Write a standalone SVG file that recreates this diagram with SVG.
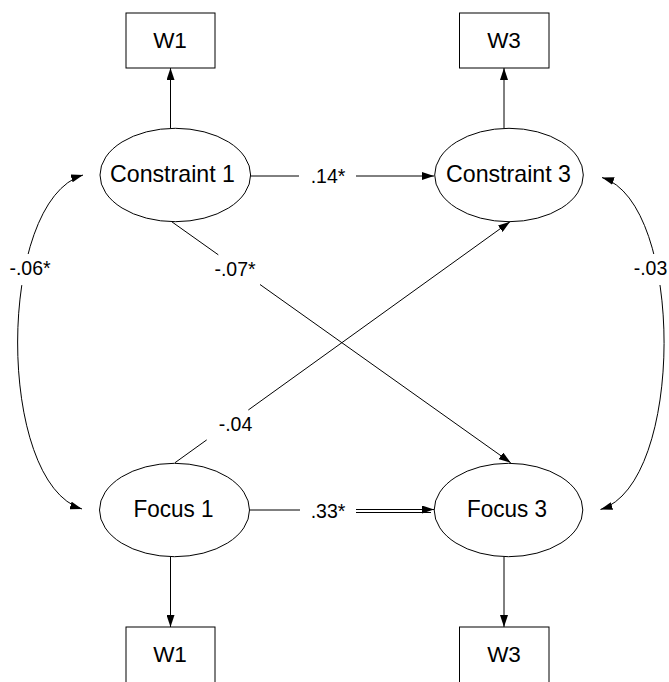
<svg xmlns="http://www.w3.org/2000/svg" width="669" height="682" viewBox="0 0 669 682">
<style>
.box{fill:#fff;stroke:#000;stroke-width:1}
.ell{fill:#fff;stroke:#000;stroke-width:1}
.t{font-family:"Liberation Sans",Arial,sans-serif;fill:#000;text-anchor:middle}
.nt{font-size:24px}
.bt{font-size:22.5px}
.lb{font-size:19.5px}
.c{fill:none;stroke:#000;stroke-width:1}
.ar{marker-end:url(#ah)}
.bg{fill:#fff;stroke:none}
</style>
<defs>
<marker id="ah" markerWidth="12" markerHeight="8" refX="12" refY="4" orient="auto" markerUnits="userSpaceOnUse">
<path d="M0,0 L12,4 L0,8 z" fill="#000"/>
</marker>
<marker id="ahs" markerWidth="12" markerHeight="8" refX="12" refY="4" orient="auto-start-reverse" markerUnits="userSpaceOnUse">
<path d="M0,0 L12,4 L0,8 z" fill="#000"/>
</marker>
</defs>
<rect width="669" height="682" fill="#fff"/>

<g id="connectors">
<line class="c ar" x1="170.5" y1="128.5" x2="170.5" y2="68"/>
<line class="c ar" x1="504" y1="128.5" x2="504" y2="68"/>
<line class="c ar" x1="170.5" y1="556.5" x2="170.5" y2="627"/>
<line class="c ar" x1="504" y1="556.5" x2="504" y2="627"/>
<line class="c" x1="250.5" y1="176" x2="299" y2="176"/>
<line class="c ar" x1="356" y1="176" x2="434" y2="176"/>
<line class="c" x1="249.5" y1="510" x2="300" y2="510"/>
<line class="c ar" x1="356" y1="509.5" x2="434" y2="509.5"/>
<line class="c" x1="356" y1="512.5" x2="431" y2="512.5"/>
<path class="c" d="M171.7,221.7 L218.3,254.8"/>
<path class="c ar" d="M260,284.5 L510.7,462.7"/>
<path class="c" d="M175,462.7 L206.7,439.9"/>
<path class="c ar" d="M248.3,410 L510,221.7"/>
<path class="c" d="M83,175 C-4,201 -4,483 82,509" marker-start="url(#ahs)" marker-end="url(#ah)"/>
<path class="c" d="M602,177.5 C685,203 685,484 600.5,509.5" marker-start="url(#ahs)" marker-end="url(#ah)"/>
<rect class="bg" x="6" y="254" width="50" height="31"/>
<rect class="bg" x="632" y="254" width="37" height="31"/>
<text class="t lb" x="30" y="275">-.06*</text>
<text class="t lb" x="235" y="275.7">-.07*</text>
<text class="t lb" x="650.5" y="275">-.03</text>
<text class="t lb" x="235.5" y="431">-.04</text>
<text class="t lb" x="328" y="183">.14*</text>
<text class="t lb" x="328" y="517.5">.33*</text>
</g>

<g id="W1_top"><rect class="box" x="126" y="13" width="89" height="55"/><text class="t bt" x="170" y="48.3">W1</text></g>
<g id="W3_top"><rect class="box" x="459.5" y="13" width="89.5" height="55"/><text class="t bt" x="504" y="48.3">W3</text></g>
<g id="Constraint1"><ellipse class="ell" cx="175.3" cy="175" rx="75.3" ry="46.7"/><text class="t nt" x="172.5" y="182.3" textLength="125" lengthAdjust="spacingAndGlyphs">Constraint 1</text></g>
<g id="Constraint3"><ellipse class="ell" cx="509" cy="175" rx="74.3" ry="46.7"/><text class="t nt" x="508.5" y="182.3" textLength="125" lengthAdjust="spacingAndGlyphs">Constraint 3</text></g>
<g id="Focus1"><ellipse class="ell" cx="174.5" cy="510" rx="75" ry="46.7"/><text class="t nt" x="173.4" y="517.3" textLength="80" lengthAdjust="spacingAndGlyphs">Focus 1</text></g>
<g id="Focus3"><ellipse class="ell" cx="508.5" cy="510" rx="74.3" ry="46.7"/><text class="t nt" x="507" y="517.3" textLength="80" lengthAdjust="spacingAndGlyphs">Focus 3</text></g>
<g id="W1_bottom"><rect class="box" x="126" y="627" width="89" height="58"/><text class="t bt" x="170" y="661.5">W1</text></g>
<g id="W3_bottom"><rect class="box" x="459.5" y="627" width="89.5" height="58"/><text class="t bt" x="504" y="661.5">W3</text></g>
</svg>
